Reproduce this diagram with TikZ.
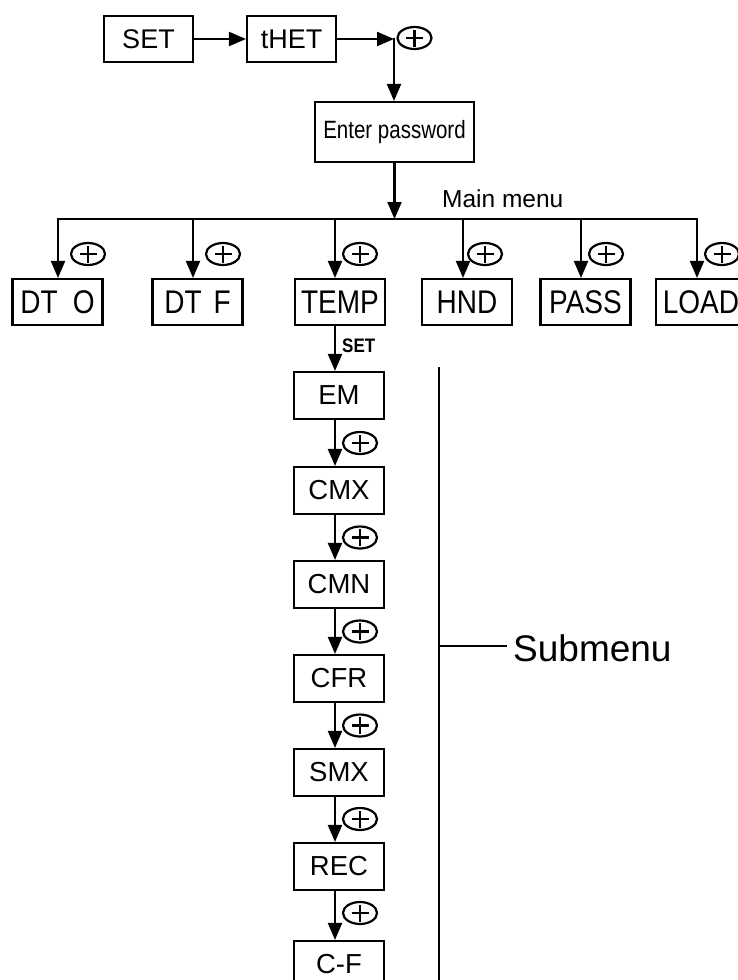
\documentclass[tikz,border=0pt]{standalone}
\usepackage{fontspec}
\setmainfont{Liberation Sans}
\usetikzlibrary{arrows.meta,shapes.geometric}
\newcommand\talltext[1]{\scalebox{1}[1.17]{#1}}
\begin{document}
\begin{tikzpicture}[x=1pt,y=-1pt,
  box/.style={draw,line width=2.1pt,inner sep=0pt,minimum height=46pt},
  arr/.style={line width=2.1pt,-{Triangle[length=17pt,width=14pt]}},
  ln/.style={line width=2.1pt},
  plussym/.style={ellipse,draw,line width=2.2pt,minimum width=34pt,minimum height=22pt,inner sep=0pt,
    path picture={\draw[line width=2.4pt]
      ([xshift=-8.5pt]path picture bounding box.center) -- ([xshift=8.5pt]path picture bounding box.center)
      ([yshift=-8.5pt]path picture bounding box.center) -- ([yshift=8.5pt]path picture bounding box.center);}},
  topbox/.style={box,minimum width=89pt,font=\fontsize{27}{27}\selectfont},
  mainbox/.style={box,minimum width=90pt,font=\fontsize{28}{28}\selectfont},
  subbox/.style={box,minimum width=90pt,minimum height=47pt,font=\fontsize{27.5}{27.5}\selectfont},
]
\clip (0,0) rectangle (738,980);
\fill[white] (0,0) rectangle (738,980);

% top row
\node[topbox] (set) at (148.5,39) {SET};
\node[topbox] (thet) at (291.5,39) {tHET};
\coordinate (c1) at (394,39);
\node[plussym] (p0) at (414.5,38) {};
\node[box,minimum width=159pt,minimum height=60pt,font=\fontsize{25}{25}\selectfont] (enter) at (394.5,132) {\scalebox{0.82}[1]{Enter password}};
\draw[arr] (set) -- (thet);
\draw[arr] (thet) -- (c1);
\draw[arr] ([yshift=1pt]c1) -- (c1 |- enter.north);

% main menu bus
\coordinate (bus) at (394,219);
\coordinate (b1) at (58,219);
\coordinate (b2) at (193,219);
\coordinate (b3) at (335,219);
\coordinate (b4) at (463,219);
\coordinate (b5) at (581,219);
\coordinate (b6) at (697,219);
\draw[arr] (enter.south) -- (enter.south |- bus);
\draw[ln,line cap=rect] (b1) -- (b6);
\node[anchor=base west,inner sep=0pt,font=\fontsize{24.5}{24.5}\selectfont] (mmlabel) at (442,207) {Main menu};

% main menu boxes
\node[mainbox] (dto) at (57.5,302) {\talltext{DT\hspace{15pt}O}};
\node[mainbox] (dtf) at (197.5,302) {\talltext{DT\hspace{12pt}F}};
\node[mainbox] (temp) at (340,302) {\talltext{TEMP}};
\node[mainbox] (hnd) at (467,302) {\talltext{HND}};
\node[mainbox] (pass) at (585.5,302) {\talltext{PASS}};
\node[mainbox] (load) at (701,302) {\talltext{LOAD}};
\foreach \b/\n in {b1/dto,b2/dtf,b3/temp,b4/hnd,b5/pass,b6/load}
  \draw[arr] (\b) -- (\b |- \n.north);
\node[plussym] (p1) at (88,254) {};
\node[plussym] (p2) at (223,254) {};
\node[plussym] (p3) at (360,254) {};
\node[plussym] (p4) at (485,254) {};
\node[plussym] (p5) at (606,254) {};
\node[plussym] (p6) at (722,254) {};

% submenu column
\node[subbox] (em) at (339,395.5) {EM};
\node[subbox] (cmx) at (339,490.5) {CMX};
\node[subbox] (cmn) at (339,584.5) {CMN};
\node[subbox] (cfr) at (339,678.5) {CFR};
\node[subbox] (smx) at (339,772.5) {SMX};
\node[subbox] (rec) at (339,866.5) {REC};
\node[subbox] (cf) at (339,964.5) {C-F};
\draw[arr] ([xshift=-5pt]temp.south) -- ([xshift=-4pt]em.north);
\node[anchor=west,inner sep=0pt,font=\bfseries\fontsize{17}{17}\selectfont] (setlbl) at (342,346) {\scalebox{1}[1.15]{SET}};
\foreach \a/\b in {em/cmx,cmx/cmn,cmn/cfr,cfr/smx,smx/rec,rec/cf}
  \draw[arr] ([xshift=-4pt]\a.south) -- ([xshift=-4pt]\b.north);
\node[plussym] (q1) at (360,443) {};
\node[plussym] (q2) at (360,537.5) {};
\node[plussym] (q3) at (360,631.5) {};
\node[plussym] (q4) at (360,725.5) {};
\node[plussym] (q5) at (360,819) {};
\node[plussym] (q6) at (360,913) {};

% submenu bracket
\coordinate (st) at (439,367);
\coordinate (sb) at (439,995);
\coordinate (sm) at (439,646);
\draw[ln] (st) -- (sb);
\node[anchor=west,inner sep=0pt,font=\fontsize{37}{37}\selectfont] (subm) at (513,648) {Submenu};
\draw[ln] (sm) -- ([xshift=-6pt]subm.west |- sm);
\end{tikzpicture}
\end{document}
